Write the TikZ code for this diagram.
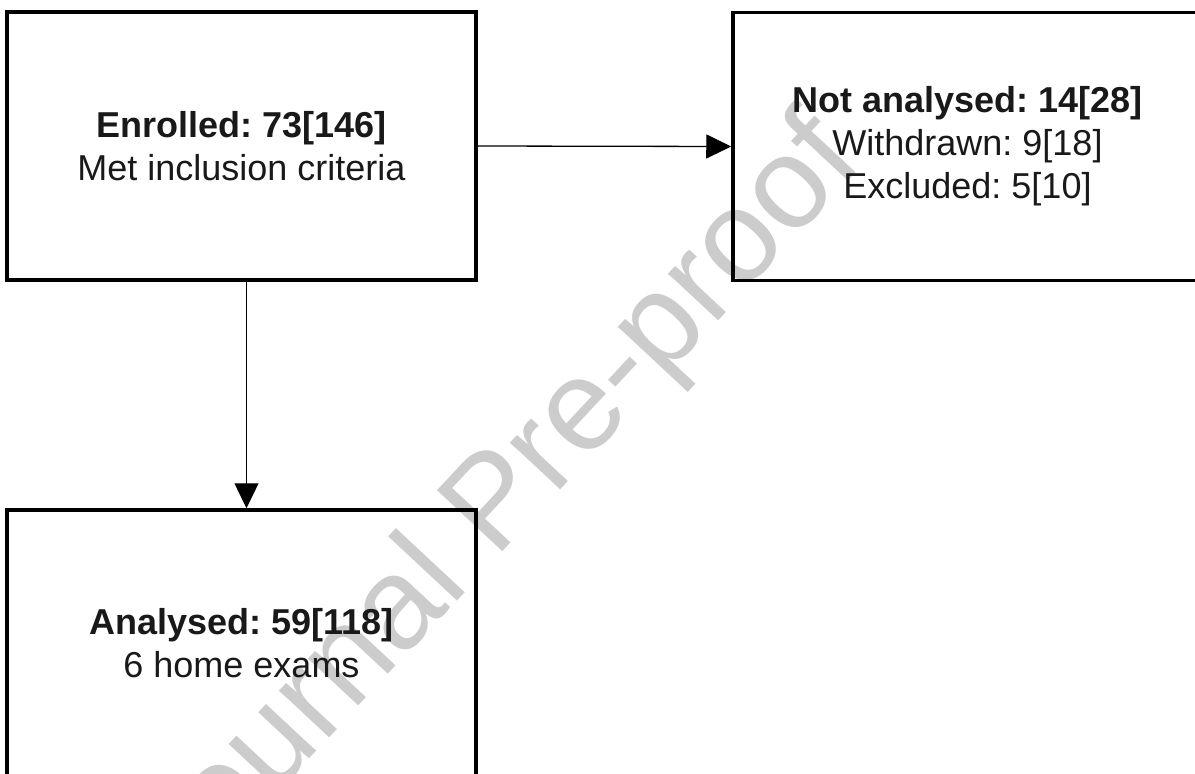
\documentclass[tikz,border=0pt]{standalone}
\usepackage{fontspec}
\setmainfont{Liberation Sans}
\usetikzlibrary{arrows.meta}
\frenchspacing

\begin{document}
\begin{tikzpicture}[x=1pt,y=1pt,
  flowbox/.style={draw,line width=3.5pt,minimum width=469pt,minimum height=268pt,
    align=center,font=\fontsize{36}{43}\selectfont,text=black!90},
  flowarrow/.style={line width=1.3pt,-{Triangle[length=25pt,width=24pt]}}]
 \useasboundingbox (0,0) rectangle (1195,-774); %画像の範囲
 \node[anchor=base west,rotate=47,inner sep=0pt,text=gray!40,
   font=\fontsize{130}{130}\selectfont] (wm) at (180,-898) {Journal Pre-proof}; %透かし

 \node[flowbox] (enrol) at (241.5,-146) {\textbf{Enrolled: 73[146]}\\Met inclusion criteria}; %登録
 \node[flowbox] (notana) at (967.5,-146.5) {\textbf{Not analysed: 14[28]}\\Withdrawn: 9[18]\\Excluded: 5[10]}; %除外
 \node[flowbox,minimum height=266pt] (ana) at (241.5,-643) {\textbf{Analysed: 59[118]}\\6 home exams}; %解析

 \draw[flowarrow] (enrol.east)--(notana.west);
 \draw[flowarrow] ([xshift=5pt]enrol.south)--([xshift=5pt]ana.north);
\end{tikzpicture}
\end{document}
